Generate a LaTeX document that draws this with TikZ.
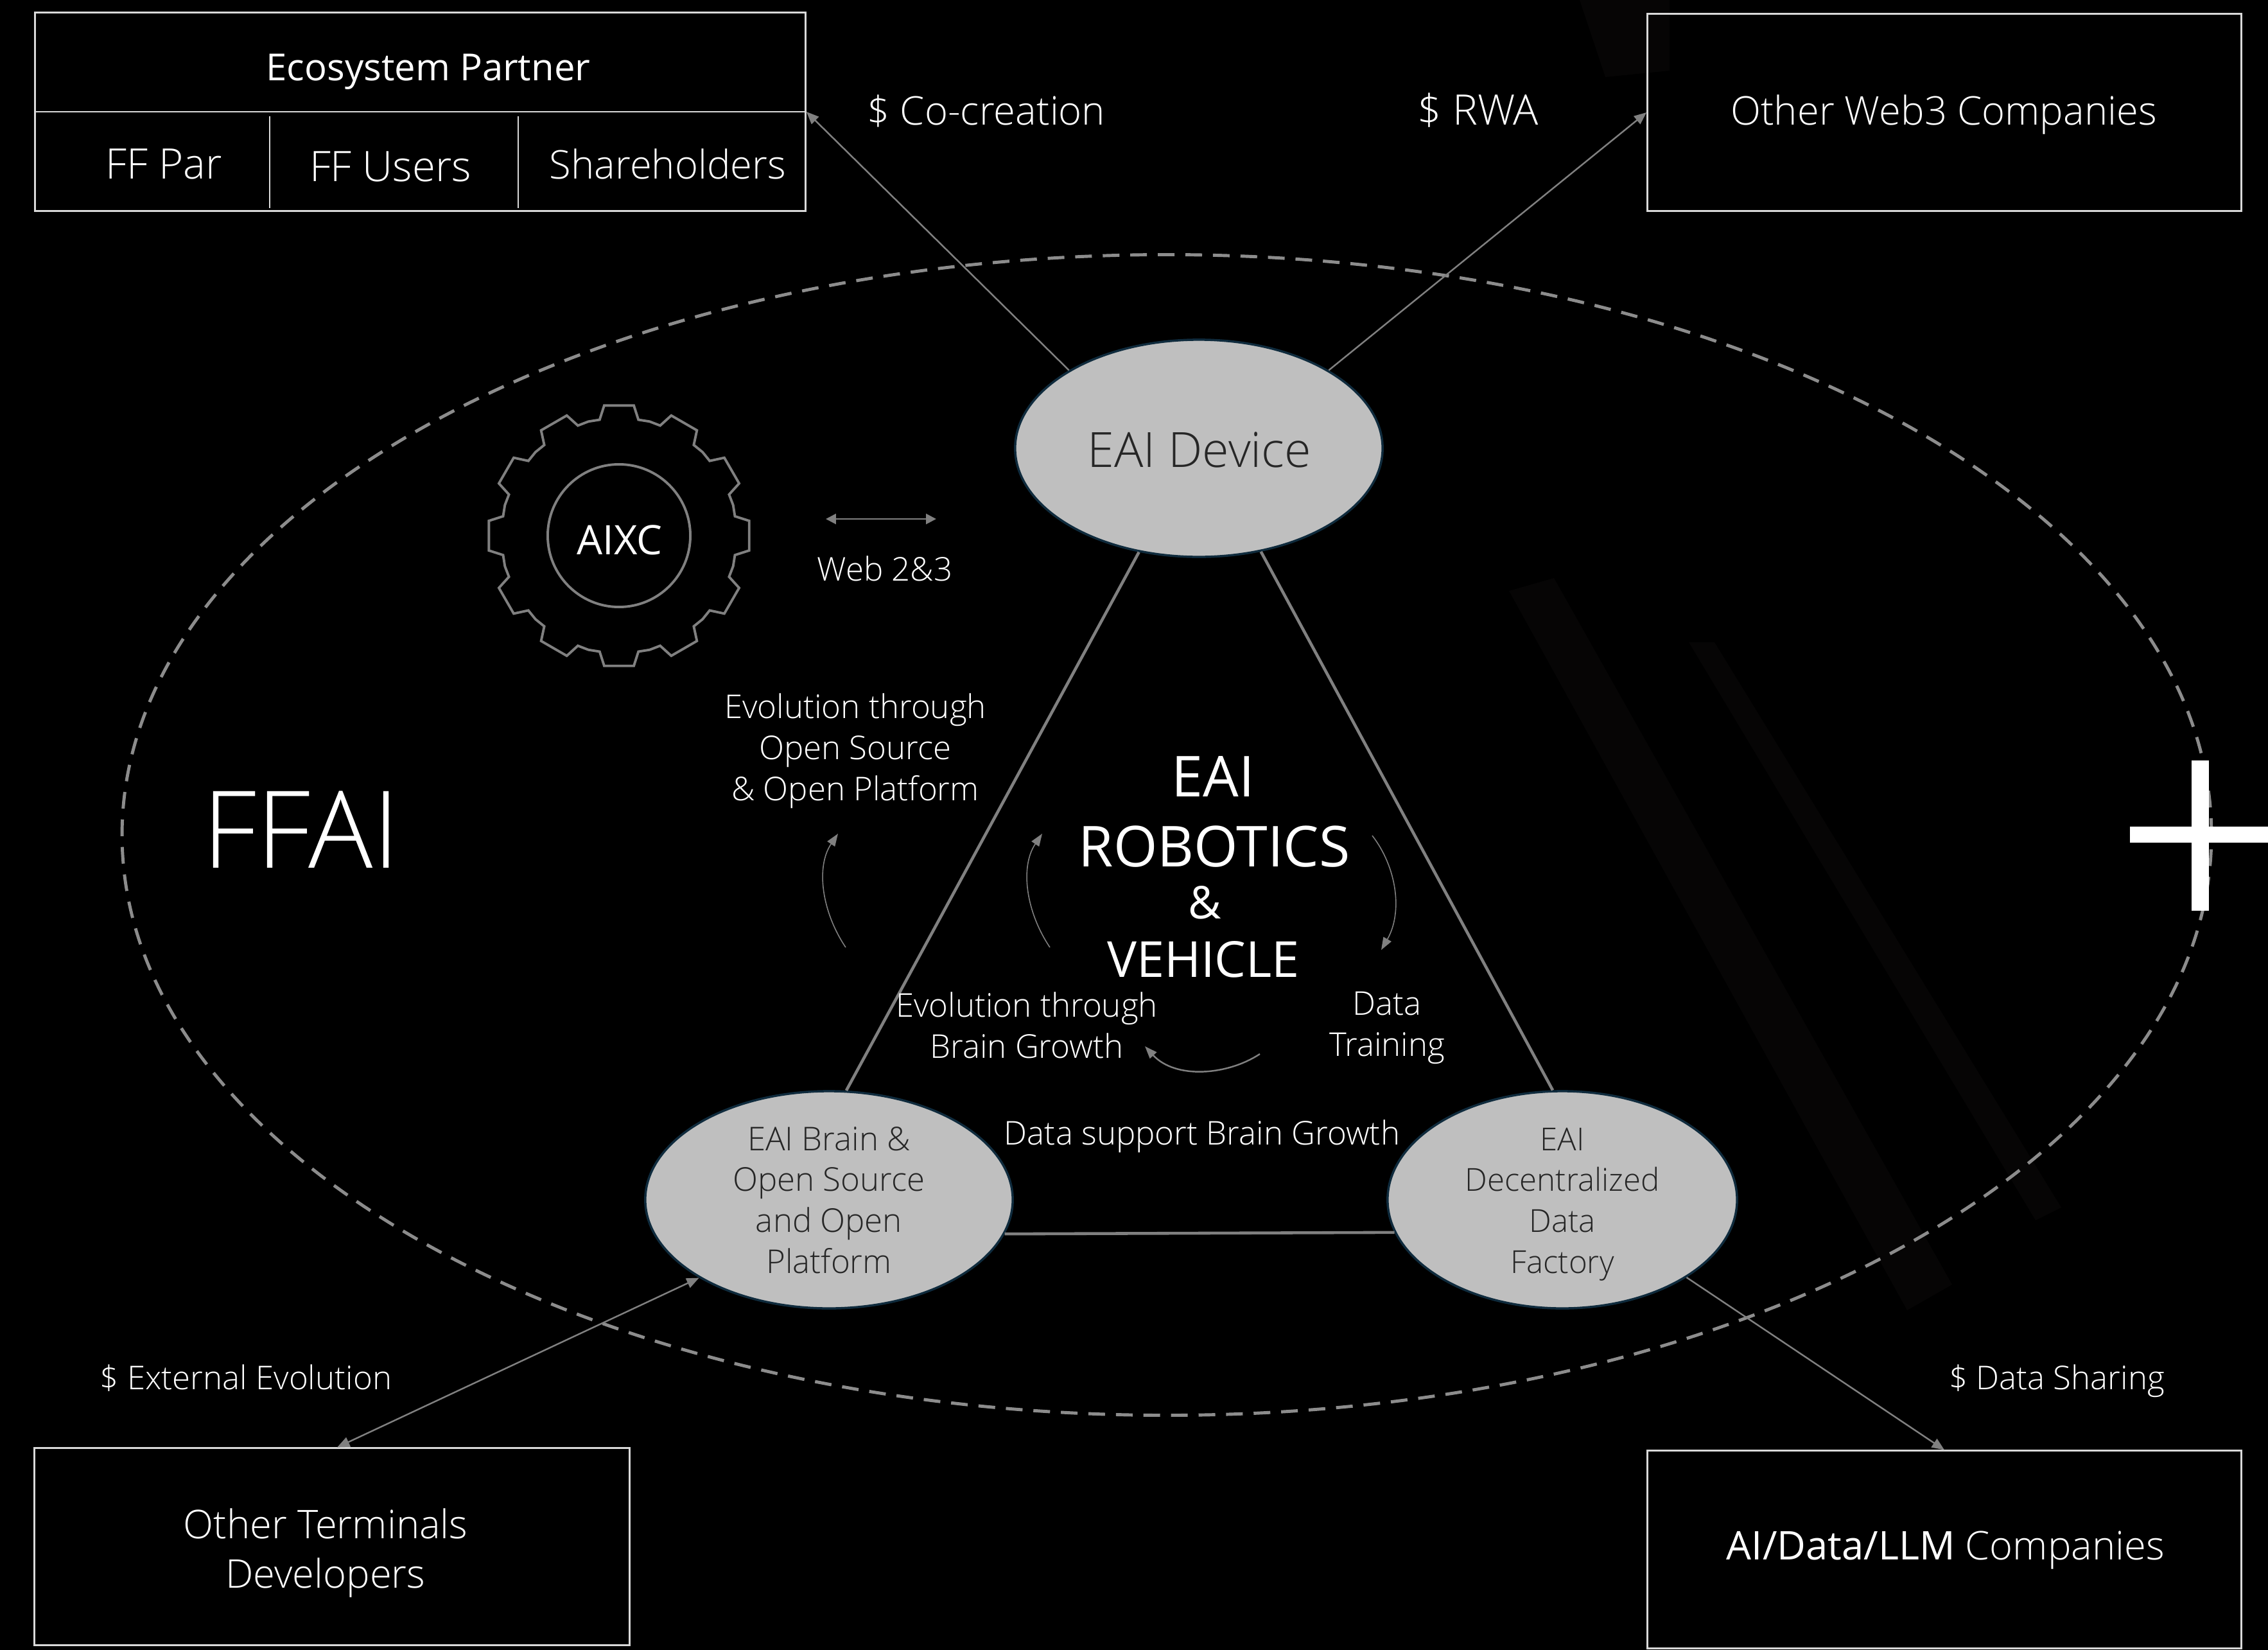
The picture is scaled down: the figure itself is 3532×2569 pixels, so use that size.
\documentclass[tikz,border=0pt]{standalone}
\usepackage{fontspec}
\setmainfont{Open Sans Light}
\newfontfamily\regfont{Open Sans}
\usepackage{tikz}
\usetikzlibrary{arrows.meta,shapes.geometric}
\definecolor{linegrey}{HTML}{808080}
\definecolor{dashgrey}{HTML}{8C8C8C}
\definecolor{boxline}{HTML}{D9D9D9}
\definecolor{ovalfill}{HTML}{BFBFBF}
\definecolor{ovalline}{HTML}{0F2B3D}
\definecolor{faint}{HTML}{060505}
\tikzset{
  lbl/.style={text=white, inner sep=0pt, align=center, anchor=base,
    font=\fontsize{14.5}{18.1}\selectfont},
  biglbl/.style={lbl, font=\fontsize{17.5}{21}\selectfont},
  widelbl/.style={lbl, font=\fontsize{18.6}{21}\selectfont},
  centerlbl/.style={lbl, font=\regfont\fontsize{25}{30}\selectfont},
  ovallbl/.style={lbl, text=black!85},
  boxnode/.style={draw=boxline, line width=0.85pt, inner sep=0pt},
  oval/.style={ellipse, draw=ovalline, fill=ovalfill, line width=1pt, inner sep=0pt},
  edge/.style={draw=linegrey, line width=1.3pt},
  thinarrow/.style={draw=linegrey, line width=0.7pt, -{Triangle[length=5.5pt,width=4.5pt]}},
  bentarrow/.style={draw=linegrey, line width=0.45pt, -{Triangle[length=5.5pt,width=4pt]}},
}
\begin{document}
\begin{tikzpicture}[x=0.01cm,y=-0.01cm]
  \useasboundingbox[fill=black] (0,0) rectangle (3532,2569);
  % faint streaks of the backdrop
  \fill[faint] (2350,920)--(2420,900)--(3040,2000)--(2970,2040)--cycle;
  \fill[faint] (2630,1000)--(2670,1000)--(3210,1880)--(3170,1900)--cycle;
  \fill[faint] (2460,0)--(2600,0)--(2600,110)--(2500,120)--cycle;
  % dashed outline
  \node[ellipse, draw=dashgrey, line width=1.4pt, dash pattern=on 7.4pt off 4.8pt,
    inner sep=0pt, minimum width=32.52cm, minimum height=18.06cm] (ffai) at (1817,1300) {};
  % outer boxes
  \node[boxnode, minimum width=11.99cm, minimum height=3.08cm] (partner) at (654.5,174) {};
  \node[boxnode, minimum width=9.24cm, minimum height=3.06cm] (web3) at (3028,175) {};
  \node[boxnode, minimum width=9.26cm, minimum height=3.06cm] (terminals) at (517,2408) {};
  \node[boxnode, minimum width=9.24cm, minimum height=3.07cm] (llm) at (3028,2412.5) {};
  \draw[boxnode] (partner.west)--(partner.east);
  \draw[draw=boxline, line width=0.55pt] (420,181)--(420,324);
  \draw[draw=boxline, line width=0.55pt] (807,181)--(807,324);
  % the three ovals
  \node[oval, minimum width=5.72cm, minimum height=3.38cm] (device) at (1867,698) {};
  \node[oval, minimum width=5.72cm, minimum height=3.38cm] (brain) at (1291,1868) {};
  \node[oval, minimum width=5.44cm, minimum height=3.38cm] (factory) at (2433,1868) {};
  \draw[edge] (device.240)--(brain.81);
  \draw[edge] (device.301)--(factory.95);
  \draw[edge] (brain.-11)--(factory.191);
  \draw[thinarrow] (device.149)--(partner.east);
  \draw[thinarrow] (device.31)--(web3.west);
  \draw[thinarrow, {Triangle[length=5.5pt,width=4.5pt]}-{Triangle[length=5.5pt,width=4.5pt]}]
    (brain.211)--(terminals.87);
  \draw[thinarrow] (factory.-32)--(llm.north);
  % gear
  \coordinate (gear) at (964,834);
  \draw[linegrey, line width=1.1pt, shift={(gear)}]
    (-9.5:183) foreach \a in {0,30,...,330}
    { --(\a-9.5:183)--(\a-6.5:204)--(\a+6.5:204)--(\a+9.5:183)--(\a+15:184) } --cycle;
  \node[circle, draw=linegrey, line width=1.1pt, inner sep=0pt, minimum size=2.22cm] (aixc) at (gear) {};
  \node[lbl, font=\regfont\fontsize{18}{21}\selectfont] (aixclbl) at (965,863) {AIXC};
  % web 2 and 3
  \coordinate (webl) at (1286,808);
  \coordinate (webr) at (1458,808);
  \draw[draw=linegrey, line width=0.8pt, {Triangle[length=4.5pt,width=4.5pt]}-{Triangle[length=4.5pt,width=4.5pt]}] (webl)--(webr);
  \node[lbl] (web) at (1378,904) {Web 2\&3};
  % bent arrows
  \draw[bentarrow] (1317,1475) .. controls (1280,1420) and (1270,1350) .. (1305,1298);
  \draw[bentarrow] (1635,1475) .. controls (1598,1420) and (1588,1350) .. (1623,1298);
  \draw[bentarrow] (2137,1301) .. controls (2175,1350) and (2185,1420) .. (2151,1479);
  \draw[bentarrow, line width=0.7pt] (1962,1641) .. controls (1910,1675) and (1830,1680) .. (1783,1629);
  % texts
  \node[lbl, font=\regfont\fontsize{16.5}{21}\selectfont] (eco) at (667,125) {Ecosystem Partner};
  \node[widelbl] (ffpar) at (255,278) {FF Par};
  \node[widelbl] (ffusers) at (608,282) {FF Users};
  \node[biglbl] (holders) at (1040,278) {Shareholders};
  \node[biglbl] (cocreate) at (1536,194) {\$ Co-creation};
  \node[widelbl] (rwa) at (2302,194) {\$ RWA};
  \node[biglbl] (web3lbl) at (3027,194) {Other Web3 Companies};
  \node[lbl, text=black!85, font=\fontsize{21.5}{26}\selectfont] (devlbl) at (1868,727) {EAI Device};
  \node[lbl, font=\fontsize{47.5}{50}\selectfont] (ffailbl) at (469,1351) {FFAI};
  \node[lbl] (evo1) at (1332,1246) {Evolution through\\Open Source\\\& Open Platform};
  \node[centerlbl] (eai) at (1889,1240) {EAI};
  \node[centerlbl] (robo) at (1891,1349) {ROBOTICS};
  \node[lbl, font=\regfont\fontsize{20}{24}\selectfont] (amp) at (1876,1430) {\&};
  \node[lbl, font=\regfont\fontsize{22}{26}\selectfont] (veh) at (1874,1521) {VEHICLE};
  \node[lbl] (evo2) at (1599,1647) {Evolution through\\Brain Growth};
  \node[lbl] (train) at (2160,1644) {Data\\Training};
  \node[lbl] (support) at (1872,1782) {Data support Brain Growth};
  \node[ovallbl] (brainlbl) at (1291,1982) {EAI Brain \&\\Open Source\\and Open\\Platform};
  \node[ovallbl, font=\fontsize{14}{18.1}\selectfont] (factlbl) at (2433,1982) {EAI\\Decentralized\\Data\\Factory};
  \node[lbl] (ext) at (383,2163) {\$ External Evolution};
  \node[lbl] (share) at (3203,2163) {\$ Data Sharing};
  \node[biglbl, font=\fontsize{17.5}{21.8}\selectfont] (termlbl) at (507,2472) {Other Terminals\\Developers};
  \node[biglbl] (llmlbl) at (3030,2428) {{\regfont AI/Data/LLM} Companies};
  % plus sign
  \fill[white] (3413,1184) rectangle (3440,1418);
  \fill[white] (3317,1287) rectangle (3532,1312);
\end{tikzpicture}
\end{document}
